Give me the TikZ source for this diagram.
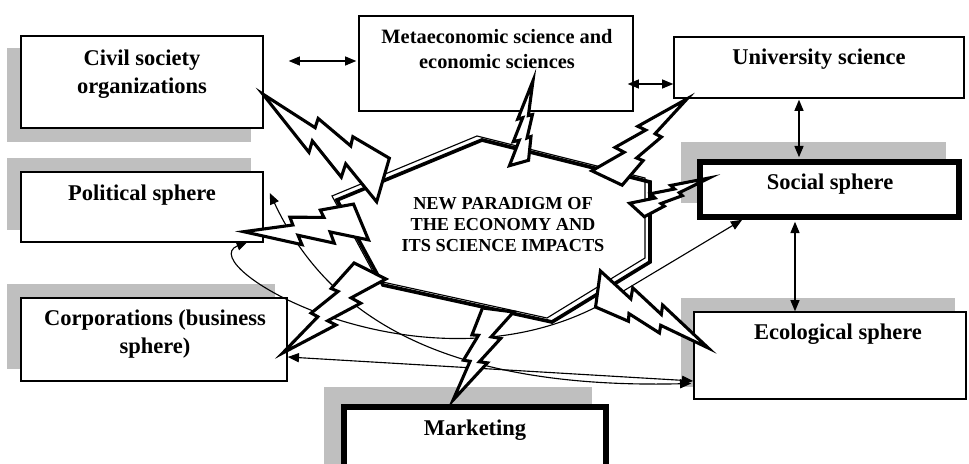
\documentclass[tikz,border=0pt]{standalone}
\usepackage{fontspec}
\setmainfont{Liberation Serif}
\usetikzlibrary{arrows.meta,calc,backgrounds}

\tikzset{
  box/.style={draw, line width=1pt, fill=white, inner sep=0pt},
  heavybox/.style={box, line width=4pt},
  shade/.style={fill=black!25},
  boxtext/.style={font=\fontsize{16}{19.5}\selectfont\bfseries, align=center, anchor=north, inner sep=0pt},
  link/.style={line width=0.8pt, {Triangle[length=8pt,width=6.5pt]}-{Triangle[length=8pt,width=6.5pt]}},
  hexline/.style={line width=2.6pt, line join=miter},
  hexthin/.style={line width=0.8pt, line join=miter},
  boltline/.style={line width=2.2pt, fill=white, line join=miter},
}

% one point of a lightning bolt, #1 along, #2 across, #3 width factor
\newcommand\bpt[3]{({\x1+(#1)*(\x2-\x1)-(#3)*(#2)*(\y2-\y1)},{\y1+(#1)*(\y2-\y1)+(#3)*(#2)*(\x2-\x1)})}
% lightning bolt from #1 (base) to #2 (tip)
\newcommand\bolt[3]{%
  \filldraw[boltline] let \p1=(#1), \p2=(#2) in
    \bpt{0.0508}{-0.1704}{#3} -- \bpt{-0.0508}{0.1704}{#3} -- \bpt{0.2687}{0.0678}{#3}
    -- \bpt{0.2410}{0.1742}{#3} -- \bpt{0.5425}{0.0742}{#3} -- \bpt{0.5161}{0.1633}{#3}
    -- \bpt{1}{0}{#3} -- \bpt{0.5791}{-0.0244}{#3} -- \bpt{0.5988}{-0.0981}{#3}
    -- \bpt{0.3112}{-0.0710}{#3} -- \bpt{0.3362}{-0.1406}{#3} -- cycle;}
\newcommand\hexpath{(482,140) -- (650,182) -- (650,262) -- (552,322) -- (383,285) -- (337,200) -- cycle}

\begin{document}
\begin{tikzpicture}[x=0.025cm, y=-0.025cm]
  \useasboundingbox (0,0) rectangle (969,464);

  % boxes
  \node[box, minimum width=6.05cm, minimum height=2.3cm] (civil) at (142,82) {};
  \node[box, minimum width=6.85cm, minimum height=2.375cm] (meta) at (496,63.5) {};
  \node[box, minimum width=7.25cm, minimum height=1.525cm] (univ) at (819,67.5) {};
  \node[heavybox, minimum width=6.475cm, minimum height=1.375cm] (social) at (829.5,189.5) {};
  \node[box, minimum width=6.05cm, minimum height=1.75cm] (polit) at (142,207) {};
  \node[box, minimum width=6.65cm, minimum height=2.075cm] (corp) at (154,339.5) {};
  \node[box, minimum width=6.8cm, minimum height=2.175cm] (eco) at (830,355.5) {};
  \node[heavybox, minimum width=6.55cm, minimum height=1.825cm] (market) at (475,443.5) {};

  \begin{scope}[on background layer]
    \fill[shade] ([shift={(-13,13)}]civil.north west) rectangle ([shift={(-13,13)}]civil.south east);
    \fill[shade] ([shift={(-13,-13)}]polit.north west) rectangle ([shift={(-13,-13)}]polit.south east);
    \fill[shade] ([shift={(-13,-13)}]corp.north west) rectangle ([shift={(-13,-13)}]corp.south east);
    \fill[shade] ([shift={(-16,-17)}]social.north west) rectangle ([shift={(-16,-17)}]social.south east);
    \fill[shade] ([shift={(-12,-13)}]eco.north west) rectangle ([shift={(-12,-13)}]eco.south east);
    \fill[shade] ([shift={(-17,-17)}]market.north west) rectangle ([shift={(-17,-17)}]market.south east);
  \end{scope}

  % texts
  \node[boxtext] (civiltxt) at (142,50) {Civil society\\organizations};
  \node[boxtext, font=\fontsize{14.5}{17.5}\selectfont\bfseries] (metatxt) at (497,29) {Metaeconomic science and\\economic sciences};
  \node[boxtext] (univtxt) at (819,49) {University science};
  \node[boxtext] (socialtxt) at (830,174) {Social sphere};
  \node[boxtext] (polittxt) at (142,185) {Political sphere};
  \node[boxtext] (corptxt) at (155,310) {Corporations (business\\sphere)};
  \node[boxtext] (ecotxt) at (838,324) {Ecological sphere};
  \node[boxtext] (markettxt) at (475,420) {Marketing};

  % thin connectors
  \draw[link] ($(civil.east)+(25,-21)$) -- ($(meta.west)+(-2,-2.5)$);
  \draw[link] ($(meta.east)+(-6,20.5)$) -- ($(univ.west)+(0,16.5)$);
  \draw[link] ($(univ.south)+(-20,1)$) -- ($(social.north)+(-30.5,-2)$);
  \draw[link] ($(social.south)+(-34.5,2)$) -- ($(eco.north)+(-35,0)$);
  \draw[link] ($(corp.east)+(0,17.5)$) -- ($(eco.west)+(0,25.5)$);
  \draw[link] ($(polit.east)+(6,-14)$) .. controls (320,300) and (420,390) .. ($(eco.west)+(-2,28)$);
  \coordinate (bend) at (600,305);
  \draw[link] ($(polit.south east)+(-16,-1)$) .. controls (190,265) and (420,400) .. (bend) -- ($(social.south west)+(45,0)$);

  % centre
  \draw[hexthin, shift={(-5,-4)}] \hexpath;
  \draw[hexline] \hexpath;
  \node[font=\fontsize{13}{15}\selectfont\bfseries, align=center, anchor=north, inner sep=0pt] (paradigm) at (503,197) {NEW PARADIGM OF\\THE ECONOMY AND\\ITS SCIENCE IMPACTS};

  % bolts
  \coordinate (b1) at (383,180);
  \coordinate (b2) at (361,222);
  \coordinate (b3) at (370,271);
  \coordinate (b4) at (498,310);
  \coordinate (b5) at (598,289);
  \coordinate (b6) at (637,210);
  \coordinate (b7) at (607,178);
  \coordinate (b8) at (519,163);
  \bolt{b1}{$(civil.east)+(-1,12)$}{0.85}
  \bolt{b2}{$(polit.south east)+(-20,-11)$}{0.92}
  \bolt{b3}{$(corp.east)+(-5,13.5)$}{0.82}
  \bolt{b4}{$(market.north)+(-22,-4)$}{0.86}
  \bolt{b5}{$(eco.west)+(15,-7.5)$}{0.8}
  \bolt{b6}{$(social.west)+(12,-11.5)$}{0.68}
  \bolt{b7}{$(univ.south west)+(14,0)$}{0.82}
  \bolt{b8}{$(meta.south)+(37,-31)$}{0.63}
\end{tikzpicture}
\end{document}
